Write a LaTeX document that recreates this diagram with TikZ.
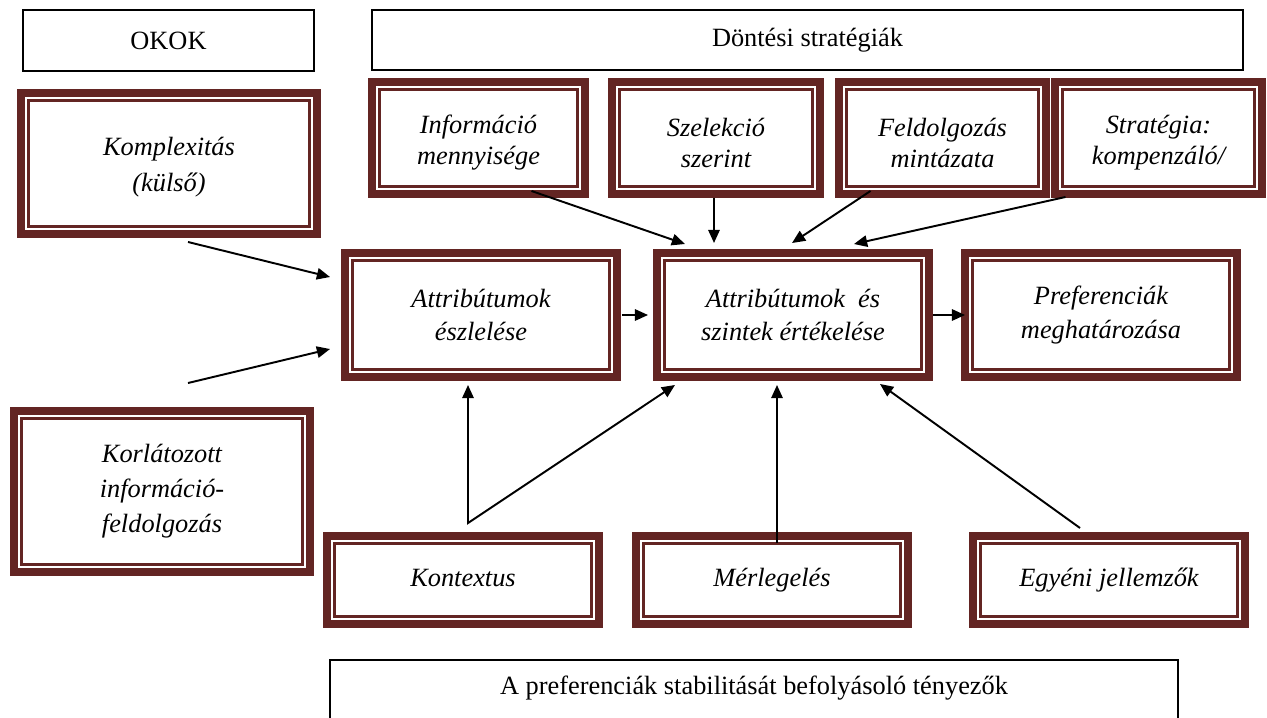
\documentclass[tikz,border=0pt]{standalone}
\usepackage{fontspec}
\setmainfont{Liberation Serif}
\usetikzlibrary{arrows.meta,calc}
\definecolor{BordoColor}{RGB}{99,37,35}
\newcommand{\topstrut}{\rule{0pt}{16pt}}

\begin{document}
\begin{tikzpicture}[x=0.02cm,y=-0.02cm,>={Triangle[length=7.5pt,width=6.5pt]},
  every node/.style={align=center,font=\fontsize{15}{18}\selectfont,inner sep=2pt,outer sep=0pt},
  factor/.style={draw=BordoColor,line width=4.5pt,fill=white,font=\fontsize{15}{17.5}\selectfont\itshape},
  topfactor/.style={factor,minimum height=2.24cm},
  headbox/.style={draw,line width=0.8pt},
  arr/.style={->,line width=1.1pt}]
\useasboundingbox (0,0) rectangle (1267,717);
\clip (0,0) rectangle (1267,717);
\node[headbox,minimum width=5.82cm,minimum height=1.22cm] (okok) at (168.5,40.5) {OKOK};
\node[headbox,minimum width=17.42cm,minimum height=1.2cm] (dontes) at (807.5,40) {Döntési stratégiák};
\node[factor,minimum width=5.92cm,minimum height=2.82cm,font=\fontsize{15}{20.5}\selectfont\itshape] (kompl) at (169,163.5) {\rule{0pt}{14.5pt}Komplexitás\\(külső)};
\node[factor,minimum width=5.92cm,minimum height=3.22cm,font=\fontsize{15}{20}\selectfont\itshape] (korl) at (162,491.5) {Korlátozott\\információ-\\feldolgozás};
\node[topfactor,minimum width=4.26cm] (info) at (478.5,138) {\topstrut Információ\\mennyisége};
\node[topfactor,minimum width=4.16cm] (szel) at (716,138) {\topstrut Szelekció\\szerint};
\node[topfactor,minimum width=4.14cm] (feld) at (942.5,138) {\topstrut Feldolgozás\\mintázata};
\node[topfactor,minimum width=4.14cm] (strat) at (1158.5,138) {\topstrut Stratégia:\\kompenzáló/};
\node[factor,minimum width=5.44cm,minimum height=2.48cm,font=\fontsize{15}{19}\selectfont\itshape] (eszl) at (481,315) {Attribútumok\\észlelése};
\node[factor,minimum width=5.44cm,minimum height=2.48cm,font=\fontsize{15}{19}\selectfont\itshape] (ertek) at (793,315) {Attribútumok\ \ és\\szintek értékelése};
\node[factor,minimum width=5.44cm,minimum height=2.48cm,font=\fontsize{15}{19}\selectfont\itshape] (pref) at (1101,315) {Preferenciák\\meghatározása};
\node[factor,minimum width=5.44cm,minimum height=1.76cm,text height=10pt,text depth=3pt] (kont) at (463,580) {Kontextus};
\node[factor,minimum width=5.44cm,minimum height=1.76cm,text height=10pt,text depth=3pt] (merl) at (772,580) {Mérlegelés};
\node[factor,minimum width=5.44cm,minimum height=1.76cm,text height=10pt,text depth=3pt] (egy) at (1109,580) {Egyéni jellemzők};
\node[headbox,minimum width=16.96cm,minimum height=1.6cm,text height=10pt,text depth=16pt] (stab) at (754,700) {A preferenciák stabilitását befolyásoló tényezők};
\foreach \n in {kompl,korl,info,szel,feld,strat,eszl,ertek,pref,kont,merl,egy}
  \draw[BordoColor,line width=1.5pt] ([shift={(0.148cm,0.148cm)}]\n.south west) rectangle ([shift={(-0.148cm,-0.148cm)}]\n.north east);
\coordinate (kontj) at ($(kont.north)+(5,-13)$);
\draw[arr] ($(kompl.south)+(19,8)$) -- ($(eszl.west)+(-15,-38)$);
\draw[arr] ($(korl.north)+(26,-28)$) -- ($(eszl.west)+(-15,34)$);
\draw[arr,shorten <=0.1cm,shorten >=0.18cm] (eszl.east) -- (ertek.west);
\draw[arr,shorten <=0.08cm] (ertek.east) -- (pref.west);
\draw[arr] ($(info.south)+(53,-3)$) -- ($(ertek.north)+(-108,-9)$);
\draw[arr] ($(szel.south)+(-2,4)$) -- ($(ertek.north)+(-79,-10)$);
\draw[arr] ($(feld.south)+(-72,-3)$) -- ($(ertek.north)+(-1,-10)$);
\draw[arr] ($(strat.south)+(-93,3)$) -- ($(ertek.north)+(61,-9)$);
\draw[arr,<->] ($(eszl.south)+(-13,8)$) -- (kontj) -- ($(ertek.south)+(-118,8)$);
\draw[arr] ($(merl.north)+(5,7)$) -- ($(ertek.south)+(-16,8)$);
\draw[arr] ($(egy.north)+(-29,-8)$) -- ($(ertek.south)+(87,7)$);
\end{tikzpicture}
\end{document}
